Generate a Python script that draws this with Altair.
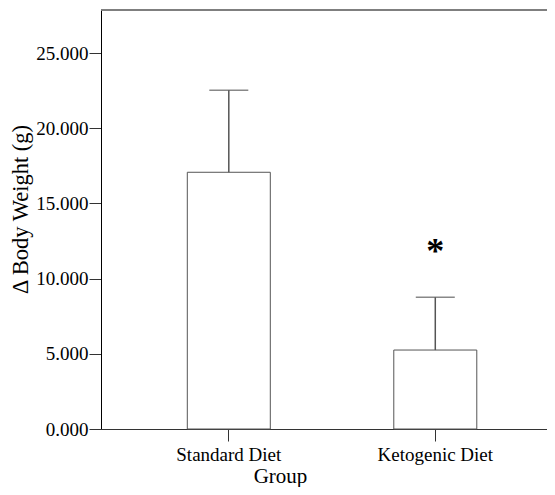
import altair as alt
import pandas as pd

groups = ["Standard Diet", "Ketogenic Diet"]
means = [17.07, 5.25]
err_top = [22.52, 8.76]
sig_mark = ["", "*"]
sig_y = [11.8, 11.8]
y_ticks = [0, 5, 10, 15, 20, 25]
y_max = 27.86

df = pd.DataFrame({"Group": groups, "mean": means, "upper": err_top,
                   "sig": sig_mark, "sig_y": sig_y})

FONT = "Liberation Serif"
GRAY = "#555555"

xscale = alt.Scale(domain=groups, paddingInner=0.598, paddingOuter=0.379, align=0.5514)
yscale = alt.Scale(domain=[0, y_max], nice=False, zero=True)

x_enc = alt.X("Group:N", scale=xscale, sort=groups,
              axis=alt.Axis(labelAngle=0, tickSize=12, labelPadding=4,
                            labelFontSize=19, labelFont=FONT, labelColor="black",
                            title="Group", titleFont=FONT, titleFontSize=21,
                            titleFontWeight="normal", titleColor="black",
                            titleX=179, titleY=53, titleBaseline="alphabetic",
                            titleAlign="center", domainColor="#333333",
                            tickColor="#333333", grid=False))

bars = alt.Chart(df).mark_bar(fill="white", stroke=GRAY, strokeWidth=1).encode(
    x=x_enc,
    y=alt.Y("mean:Q", scale=yscale,
            axis=alt.Axis(values=y_ticks, format=".3f", tickSize=12, labelPadding=1,
                          labelFontSize=19, labelFont=FONT, labelColor="black",
                          title="Δ Body Weight (g)", titleFont=FONT, titleFontSize=22.5,
                          titleFontWeight="normal", titleColor="black",
                          titleAngle=270, titleX=-74, titleY=199,
                          titleBaseline="alphabetic", titleAlign="center",
                          domainColor="black", tickColor="#333333", grid=False)),
)

err_line = alt.Chart(df).mark_rule(color=GRAY, strokeWidth=1.5).encode(
    x=alt.X("Group:N", scale=xscale, sort=groups),
    y=alt.Y("mean:Q", scale=yscale),
    y2="upper:Q",
)

err_cap = alt.Chart(df).mark_tick(color=GRAY, thickness=1.5, size=39, orient="horizontal").encode(
    x=alt.X("Group:N", scale=xscale, sort=groups),
    y=alt.Y("upper:Q", scale=yscale),
)

star = alt.Chart(df).mark_text(font=FONT, fontSize=36, fontWeight="bold",
                               baseline="middle", align="center", color="black").encode(
    x=alt.X("Group:N", scale=xscale, sort=groups),
    y=alt.Y("sig_y:Q", scale=yscale),
    text="sig:N",
)

top_line = alt.Chart(df).mark_rule(color="#777777", strokeWidth=1.5).encode(
    y=alt.datum(y_max, scale=yscale),
    x=alt.value(0),
    x2=alt.value("width"),
)

chart = alt.layer(bars, err_line, err_cap, star, top_line).properties(
    width=446, height=419,
    autosize=alt.AutoSizeParams(type="none"),
    padding={"left": 93, "top": 2, "right": 0, "bottom": 58},
).configure_view(strokeWidth=0)

chart.save("out.html", embed_options={"renderer": "svg", "actions": False})
